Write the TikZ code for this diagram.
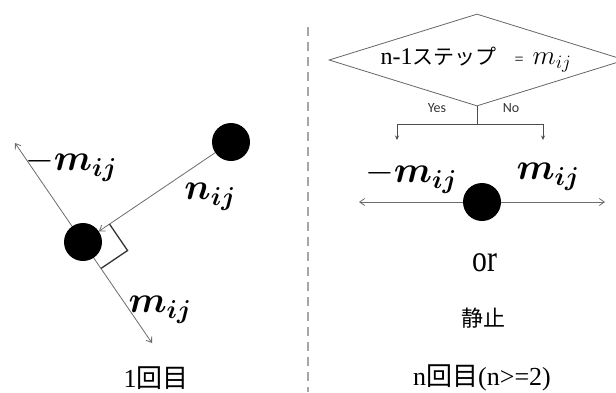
\RequirePackage{fix-cm}
\documentclass[tikz,border=0pt]{standalone}
\usepackage{fontspec}
\usepackage{amsmath,bm}
\usepackage{graphicx}
\setmainfont{Liberation Serif}
\newfontfamily\cjk{Noto Sans CJK JP}
\newfontfamily\yesno{Carlito}
\usetikzlibrary{shapes.geometric,arrows.meta,calc}
\tikzset{
  dot/.style={circle,fill=black,minimum size=38pt,inner sep=0pt},
  vec/.style={draw=gray!85!black,line width=0.8pt,arrows={-Straight Barb[length=5pt,width=7pt]}},
  vecb/.style={draw=gray!85!black,line width=0.8pt,arrows={Straight Barb[length=5pt,width=7pt]-Straight Barb[length=5pt,width=7pt]}},
  branch/.style={draw=gray!60!black,line width=0.8pt},
  brarrow/.style={branch,arrows={-Stealth[length=4.5pt,width=4pt]}},
  biglab/.style={inner sep=0pt,font=\fontsize{37}{40}\selectfont},
  caption/.style={inner sep=0pt,font=\fontsize{26}{28}\selectfont},
  yn/.style={inner sep=0pt,font=\yesno\fontsize{14}{16}\selectfont,text=black!80},
  decision/.style={diamond,draw=gray!80!black,line width=0.8pt,minimum width=296pt,minimum height=92pt,shape aspect=3.2,inner sep=0pt},
}
\begin{document}
\begin{tikzpicture}[x=1pt,y=-1pt]
\useasboundingbox[fill=white] (0,0) rectangle (616,392);
% ---------- left: first step ----------
\coordinate (ul) at (15,143);
\coordinate (lr) at (152,343);
\draw[vecb] (ul) -- (lr);
\node[dot] (A) at (83,242) {};
\node[dot] (B) at (231,142) {};
\draw[vec] (B) -- (A);
\coordinate (r1) at ($(A)!32pt!(B)$);
\coordinate (r2) at ($(A)!32pt!(lr)$);
\draw[draw=black!80,line width=1.3pt] (r1) -- ($(r1)+(r2)-(A)$) -- (r2);
\node[biglab] (lmneg) at (71,165) {$-\bm{m}_{\bm{ij}}$};
\node[biglab] (lnij) at (210,197) {$\bm{n}_{\bm{ij}}$};
\node[biglab] (lmij) at (160,310) {$\bm{m}_{\bm{ij}}$};
\node[caption] (cap1) at (156,378) {1{\cjk 回目}};
% ---------- separator ----------
\coordinate (s1) at (308,27);
\coordinate (s2) at (308,392);
\draw[gray!70,line width=2pt,dash pattern=on 8.5pt off 6.5pt] (s1) -- (s2);
% ---------- right: n-th step ----------
\node[decision] (D) at (477,60) {};
\node[inner sep=0pt,font=\fontsize{24}{26}\selectfont] (Dt) at (476,60)
  {n-1{\cjk\fontsize{21}{23}\selectfont ステップ}\hspace{18pt}{\fontsize{16}{18}\selectfont =}\hspace{9pt}{\fontsize{27}{29}\selectfont$m_{ij}$}};
\node[yn] (yes) at (437,108) {Yes};
\node[yn] (no) at (511,108) {No};
\coordinate (br) at (477,124);
\coordinate (ya) at (397,140);
\coordinate (na) at (543,140);
\draw[branch] (D.south) -- (br);
\draw[brarrow] (br) -| (ya);
\draw[brarrow] (br) -| (na);
\coordinate (hl) at (359,202);
\coordinate (hr) at (605,202);
\draw[vecb] (hl) -- (hr);
\node[dot] (C) at (482,202) {};
\node[biglab] (rmneg) at (411,177) {$-\bm{m}_{\bm{ij}}$};
\node[biglab] (rmij) at (548,177) {$\bm{m}_{\bm{ij}}$};
\node[inner sep=0pt] (or) at (485,263) {\scalebox{0.9}[1.15]{\fontsize{33}{36}\selectfont or}};
\node[inner sep=0pt,font=\cjk\fontsize{22}{24}\selectfont] (stop) at (483,318) {静止};
\node[caption] (cap2) at (482,378) {n{\cjk 回目}(n>=2)};
\end{tikzpicture}
\end{document}
